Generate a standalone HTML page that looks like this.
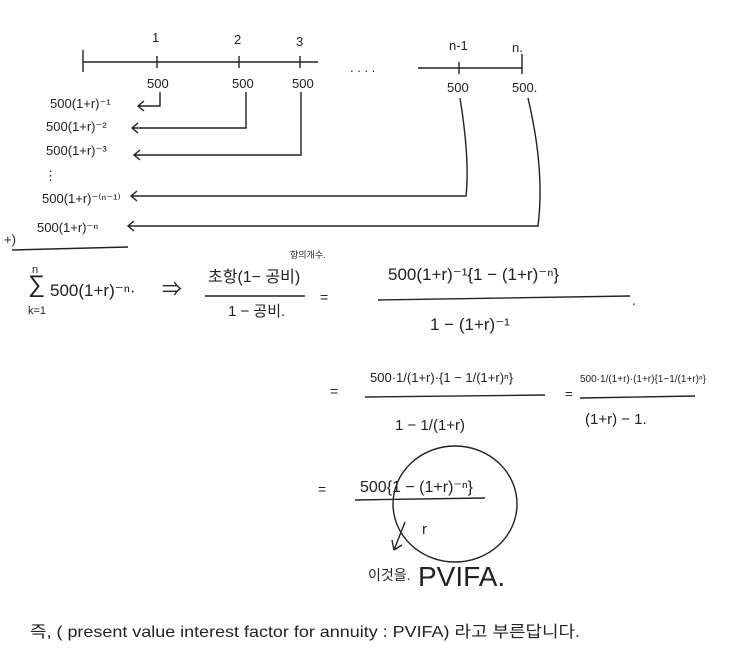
<!DOCTYPE html>
<html><head><meta charset="utf-8"><style>
body{margin:0;background:#fff}
svg text{font-family:"Liberation Sans","Noto Sans CJK KR",sans-serif;fill:#222}
</style></head><body>
<svg width="740" height="645" viewBox="0 0 740 645" xmlns="http://www.w3.org/2000/svg" stroke="#222" stroke-width="1.4" fill="none">
<line x1="83" y1="62" x2="318" y2="62"/><line x1="83" y1="50" x2="83" y2="72"/>
<line x1="157" y1="56" x2="157" y2="68"/><line x1="239" y1="56" x2="239" y2="68"/><line x1="300" y1="56" x2="300" y2="68"/>
<line x1="418" y1="68" x2="522" y2="68"/><line x1="459" y1="62" x2="459" y2="74"/><line x1="522" y1="54" x2="522" y2="74"/>
<g stroke="none" font-size="13">
<text x="152" y="42">1</text><text x="234" y="44">2</text><text x="296" y="46">3</text>
<text x="449" y="50">n-1</text><text x="512" y="52">n.</text>
<text x="350" y="72">. . . .</text>
<text x="147" y="88">500</text><text x="232" y="88">500</text><text x="292" y="88">500</text>
<text x="447" y="92">500</text><text x="512" y="92">500.</text>
<text x="50" y="108">500(1+r)⁻¹</text>
<text x="46" y="131">500(1+r)⁻²</text>
<text x="46" y="155">500(1+r)⁻³</text>
<text x="44" y="180">⋮</text>
<text x="42" y="203">500(1+r)⁻⁽ⁿ⁻¹⁾</text>
<text x="4" y="244">+)</text><text x="37" y="232">500(1+r)⁻ⁿ</text>
</g>
<path d="M160 92 V106 H138 M144 101 L138 106 L144 111"/>
<path d="M246 92 V128 H132 M138 123 L132 128 L138 133"/>
<path d="M301 92 V155 H134 M140 150 L134 155 L140 160"/>
<path d="M460 98 Q470 160 466 196 H131 M137 191 L131 196 L137 201"/>
<path d="M528 98 Q545 170 538 226 H128 M134 221 L128 226 L134 231"/>
<line x1="12" y1="250" x2="128" y2="247"/>
<g stroke="none">
<text x="28" y="292" font-size="24">∑</text>
<text x="32" y="273" font-size="11">n</text><text x="28" y="314" font-size="11">k=1</text>
<text x="50" y="296" font-size="17">500(1+r)⁻ⁿ·</text>
<text x="162" y="296" font-size="20">⇒</text>
<text x="208" y="282" font-size="16">초항(1− 공비)</text>
<text x="290" y="258" font-size="9">항의개수.</text>
<text x="228" y="316" font-size="15">1 − 공비.</text>
<text x="320" y="302" font-size="14">=</text>
<text x="388" y="280" font-size="17">500(1+r)⁻¹{1 − (1+r)⁻ⁿ}</text>
<text x="430" y="330" font-size="17">1 − (1+r)⁻¹</text>
<text x="632" y="305" font-size="14">.</text>
<text x="330" y="396" font-size="14">=</text>
<text x="370" y="382" font-size="13">500·1/(1+r)·{1 − 1/(1+r)ⁿ}</text>
<text x="395" y="430" font-size="15">1 −   1/(1+r)</text>
<text x="565" y="398" font-size="13">=</text>
<text x="580" y="382" font-size="10">500·1/(1+r)·(1+r){1−1/(1+r)ⁿ}</text>
<text x="585" y="424" font-size="15">(1+r) − 1.</text>
<text x="318" y="494" font-size="14">=</text>
<text x="360" y="492" font-size="16">500{1 − (1+r)⁻ⁿ}</text>
<text x="422" y="534" font-size="15">r</text>
<text x="368" y="580" font-size="14">이것을.</text>
<text x="418" y="586" font-size="28" font-weight="300">PVIFA.</text>
<text x="30" y="637" font-size="16" textLength="550" lengthAdjust="spacingAndGlyphs">즉, ( present value interest factor for annuity : PVIFA) 라고 부른답니다.</text>
</g>
<line x1="205" y1="296" x2="305" y2="296"/>
<line x1="378" y1="300" x2="630" y2="296"/>
<line x1="365" y1="397" x2="545" y2="395"/>
<line x1="580" y1="398" x2="695" y2="396"/>
<line x1="355" y1="500" x2="485" y2="498"/>
<ellipse cx="455" cy="504" rx="62" ry="58"/>
<path d="M405 522 L394 550 M394 550 L392 540 M394 550 L402 545"/>
</svg>
</body></html>
